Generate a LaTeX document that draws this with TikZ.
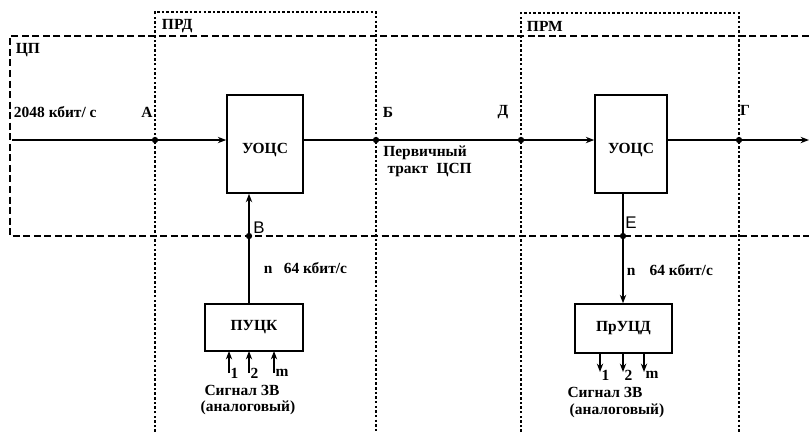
\documentclass[tikz,border=0pt]{standalone}
\usepackage{fontspec}
\setmainfont{Liberation Serif}
\newfontfamily\lettersf{Liberation Sans}
\usetikzlibrary{arrows.meta}

\begin{document}
\begin{tikzpicture}[x=0.25mm, y=-0.25mm, font=\bfseries\fontsize{11}{12}\selectfont,
		sig/.style={line width=1.1pt},
		blk/.style={draw, line width=1.1pt, inner sep=0pt},
		cpbox/.style={line width=0.9pt, dash pattern=on 5pt off 2.5pt},
		eqbox/.style={line width=0.8pt, dash pattern=on 1.8pt off 1.5pt},
		dot/.style={circle, fill, inner sep=0pt, minimum size=4.5pt},
		tip/.style={-{Stealth[length=6pt, width=4.5pt]}}]
	
	\useasboundingbox (0,0) rectangle (809,432);
	
	% --- ЦП frame (open to the right) ---
	\draw[cpbox] (809,36) -- (10,36) -- (10,236) -- (809,236);
	\node[anchor=west] (cp) at (11,50) {ЦП};
	
	% --- ПРД and ПРМ frames (open to the bottom) ---
	\draw[eqbox] (155,432) -- (155,12) -- (376,12) -- (376,432);
	\draw[eqbox] (521,432) -- (521,13) -- (739,13) -- (739,432);
	\node[anchor=west] (prd) at (157,26) {ПРД};
	\node[anchor=west] (prm) at (522,26) {ПРМ};
	
	% --- blocks ---
	\node[blk, minimum width=19mm, minimum height=24.5mm] (uocs1) at (265,144) {};
	\node at (265,150) {УОЦС};
	\node[blk, minimum width=18mm, minimum height=24.5mm] (uocs2) at (631,144) {};
	\node at (631,150) {УОЦС};
	\node[blk, minimum width=24.5mm, minimum height=11.75mm] (puck) at (254,327.5) {ПУЦК};
	\node[blk, minimum width=24.25mm, minimum height=12.25mm] (pructd) at (623.5,328.5) {ПрУЦД};
	
	% --- points on the main path ---
	\coordinate (in) at (12,140);
	\coordinate (out) at (809,140);
	\node[dot] (A) at (155,140) {};
	\node[dot] (B) at (376,140) {};
	\node[dot] (D) at (521,140) {};
	\node[dot] (G) at (739,140) {};
	\node[dot] (V) at (249,236) {};
	\node[dot] (E) at (623,236) {};
	
	% --- main path ---
	\draw[sig] (in) -- (A);
	\draw[sig, tip] (A) -- (A -| uocs1.west);
	\draw[sig] (B -| uocs1.east) -- (B) -- (D);
	\draw[sig, tip] (D) -- (D -| uocs2.west);
	\draw[sig] (G -| uocs2.east) -- (G);
	\draw[sig, tip] (G) -- (out);
	
	% --- channel branches ---
	\draw[sig] (V |- puck.north) -- (V);
	\draw[sig, tip] (V) -- (V |- uocs1.south);
	\draw[sig] (E |- uocs2.south) -- (E);
	\draw[sig, tip] (E) -- (E |- pructd.north);
	
	% --- labels ---
	\node[anchor=west] (rate) at (9,112) {2048 кбит/ с};
	\node (lA) at (147,112) {А};
	\node (lB) at (388,112) {Б};
	\node (lD) at (503,112) {Д};
	\node (lG) at (745,110) {Г};
	\node[anchor=north west, align=left, inner sep=0pt] (path) at (383,146)
	{Первичный\\\hspace*{3pt}тракт\hspace{6pt}ЦСП};
	\node[font=\lettersf\fontsize{12}{13}\selectfont] (lV) at (259,228) {В};
	\node[font=\lettersf\fontsize{12}{13}\selectfont] (lE) at (631,223) {Е};
	\node[anchor=west] (rate1) at (259,268) {n\hspace{8pt}64 кбит/с};
	\node[anchor=west] (rate2) at (622,270) {n\hspace{10pt}64 кбит/с};
	
	% --- analog inputs / outputs ---
	\foreach \x/\lab in {229/1, 249/2, 274/m} {
		\draw[line width=0.9pt, tip] (\x,373) -- (\x,351);
		\node[anchor=west, inner sep=1pt] at (\x,373) {\lab};
	}
	\foreach \x/\lab in {600/1, 623/2, 644/m} {
		\draw[line width=0.9pt, tip] (\x,353) -- (\x,372);
		\node[anchor=west, inner sep=1pt] at (\x,375) {\lab};
	}
	\node (sig1) at (242,390) {Сигнал ЗВ};
	\node (an1) at (248,408) {(аналоговый)};
	\node (sig2) at (605,392) {Сигнал ЗВ};
	\node (an2) at (617,411) {(аналоговый)};
	
\end{tikzpicture}
\end{document}
